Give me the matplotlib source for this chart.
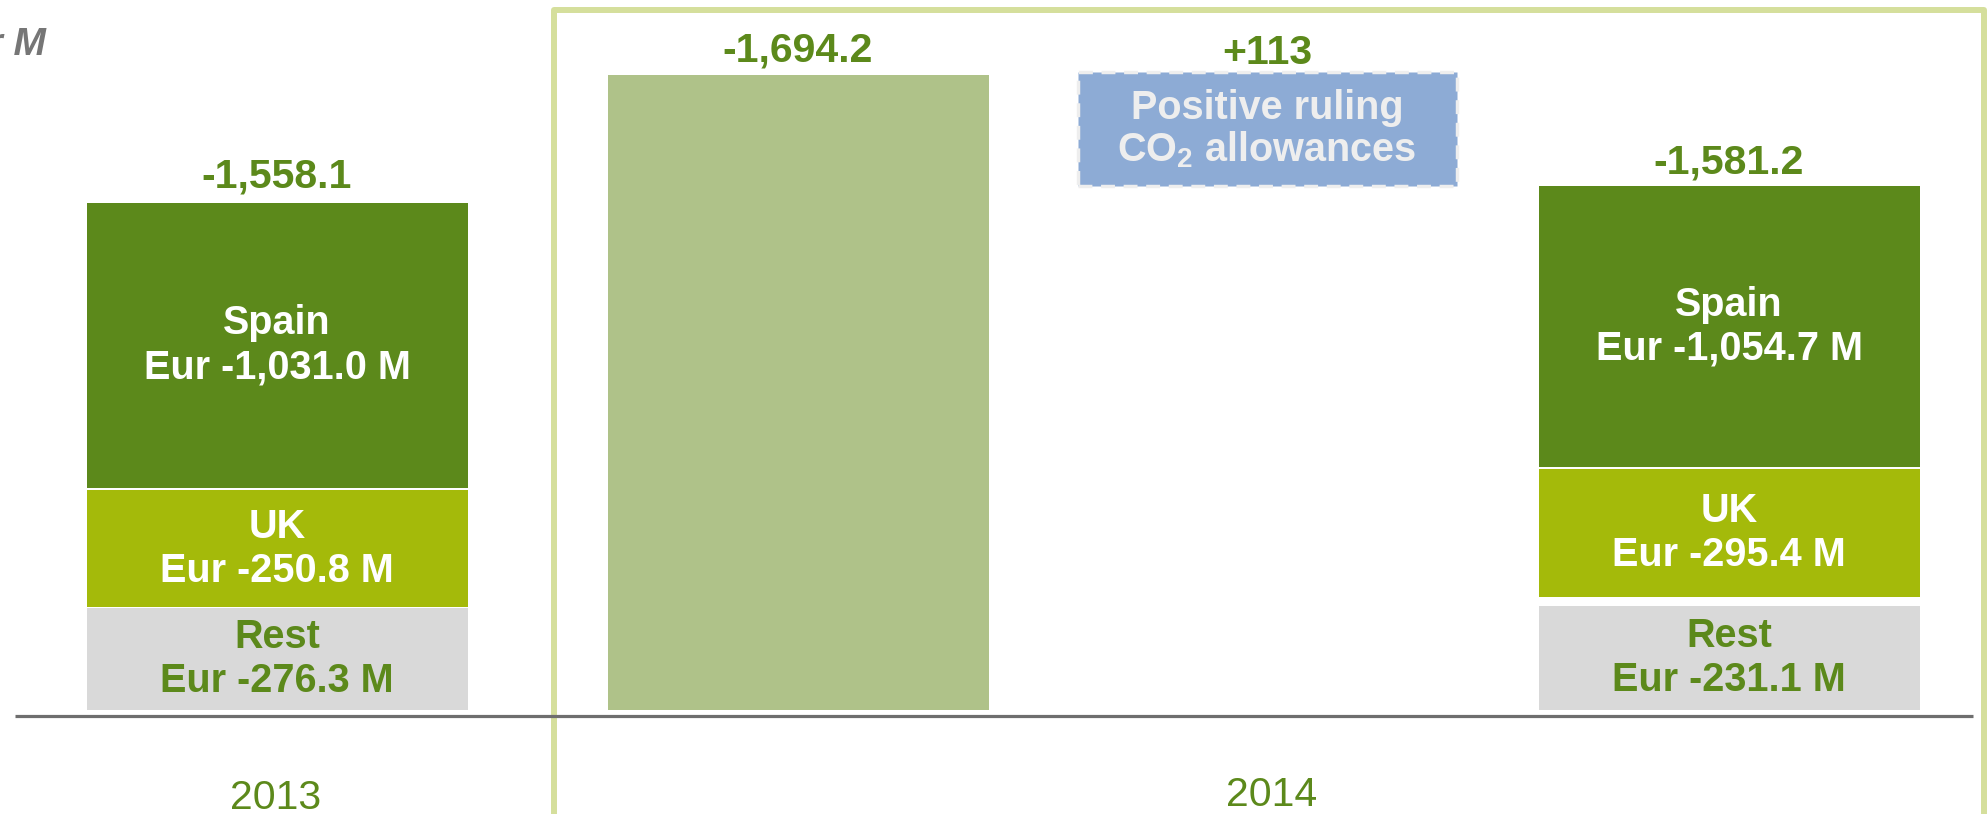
import matplotlib
matplotlib.use("Agg")
import matplotlib.pyplot as plt
from matplotlib.patches import Rectangle

plt.rcParams['font.family'] = ['Liberation Sans', 'DejaVu Sans']
plt.rcParams['mathtext.fontset'] = 'custom'
plt.rcParams['mathtext.rm'] = 'Liberation Sans'
plt.rcParams['mathtext.bf'] = 'Liberation Sans:bold'

# ---------------- data ----------------
years = ["2013", "2014"]
segments = ["Rest", "UK", "Spain"]                     # bottom -> top
values_2013 = [-276.3, -250.8, -1031.0]                 # Eur M
values_2014 = [-231.1, -295.4, -1054.7]                 # Eur M
total_2013 = -1558.1
total_2014_before = -1694.2
co2_effect = 113
total_2014 = -1581.2
co2_label = ["Positive ruling", r"CO$_\mathbf{2}$ allowances"]
unit_label = "Eur M"
# schematic drawn heights (slide is not to scale)
drawn_2013 = [102, 117, 285]
drawn_2014 = [104, 128, 281]
drawn_before = 635
drawn_co2 = 114

# ---------------- layout / style ----------------
W, H = 1987, 814
fig = plt.figure(figsize=(W / 100, H / 100), dpi=100)
ax = fig.add_axes([0, 0, 1, 1])
base_px = 710
ax.set_xlim(0, W)
ax.set_ylim(base_px - H, base_px)
ax.axis('off')

centers = [277, 798, 1267, 1729]
bar_w = 381
gaps_2013 = [1, 2]
gaps_2014 = [9, 2]
seg_colors = ['#d9d9d9', '#a4ba0a', '#5c891b']
seg_text = ['#5c891b', 'white', 'white']
green = '#5c891b'
light_bar = '#afc289'
co2_color = '#8dabd5'
frame_color = '#d5df9c'
FS = 28.5
FS_TOP = 29.5


def fmt(v):
    s = f"{abs(v):,.1f}"
    return ("-" if v < 0 else "") + s


def stacked(xc, drawn, vals, gaps):
    bottom = 0
    for i, (h, v) in enumerate(zip(drawn, vals)):
        ax.bar(xc, h, width=bar_w, bottom=bottom, color=seg_colors[i],
               linewidth=0, zorder=3)
        mid = bottom + h / 2
        ax.text(xc, mid + 22, segments[i], ha='center', va='center',
                fontsize=FS, fontweight='bold', color=seg_text[i], zorder=5)
        ax.text(xc, mid - 22, f"Eur {fmt(v)} M", ha='center', va='center',
                fontsize=FS, fontweight='bold', color=seg_text[i], zorder=5)
        bottom += h
        if i < len(gaps):
            bottom += gaps[i]
    return bottom


top13 = stacked(centers[0], drawn_2013, values_2013, gaps_2013)
ax.text(centers[0], top13 + 27, fmt(total_2013), ha='center', va='center',
        fontsize=FS_TOP, fontweight='bold', color=green)

ax.bar(centers[1], drawn_before, width=bar_w, color=light_bar, linewidth=0, zorder=3)
ax.text(centers[1], drawn_before + 25, fmt(total_2014_before), ha='center',
        va='center', fontsize=FS_TOP, fontweight='bold', color=green)

top14 = stacked(centers[3], drawn_2014, values_2014, gaps_2014)
ax.text(centers[3], top14 + 24, fmt(total_2014), ha='center', va='center',
        fontsize=FS_TOP, fontweight='bold', color=green)

# CO2 floating box (waterfall step)
ax.bar(centers[2], drawn_co2, width=bar_w - 2, bottom=top14, color=co2_color,
       edgecolor='#eeeeee', linewidth=2.5, linestyle=(0, (4, 2.5)), zorder=3)
cmid = top14 + drawn_co2 / 2
ax.text(centers[2], cmid + 21, co2_label[0], ha='center', va='center',
        fontsize=FS, fontweight='bold', color='#eeeeee', zorder=5)
ax.text(centers[2], cmid - 21, co2_label[1], ha='center', va='center',
        fontsize=FS, fontweight='bold', color='#eeeeee', zorder=5)
ax.text(centers[2], top14 + drawn_co2 + 19, f"+{co2_effect}", ha='center',
        va='center', fontsize=FS_TOP, fontweight='bold', color=green)

# baseline
ax.plot([15, 1973], [-6, -6], color='#6e6e6e', lw=2.3, zorder=4,
        solid_capstyle='butt')

# 2014 frame
ax.add_patch(Rectangle((554, -200), 1984 - 554, base_px - 10 + 200,
                       fill=False, edgecolor=frame_color, lw=4.3, zorder=2,
                       joinstyle='round'))

# year labels
ax.text(276, base_px - 798, years[0], ha='center', va='center', fontsize=29.5,
        color=green)
ax.text(1272, base_px - 795, years[1], ha='center', va='center', fontsize=29.5,
        color=green)

# unit label (cut off at the left edge, as in the original slide)
ax.text(46, base_px - 45, unit_label, ha='right', va='center', fontsize=28,
        fontweight='bold', fontstyle='italic', color='#767676')

fig.savefig('out.png', dpi=100)
